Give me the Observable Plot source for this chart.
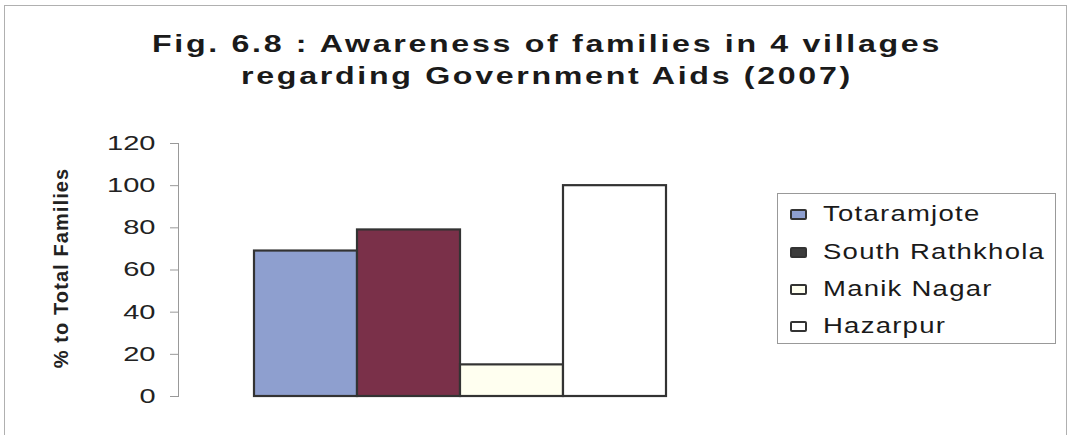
<!DOCTYPE html>
<html>
<head>
<meta charset="utf-8">
<script src="https://cdn.jsdelivr.net/npm/d3@7"></script>
<script src="https://cdn.jsdelivr.net/npm/@observablehq/plot@0.6"></script>
<style>
  html, body { margin: 0; padding: 0; background: #fff; }
  #wrap { position: relative; width: 1073px; height: 435px; overflow: hidden; font-family: "Liberation Sans", Arial, sans-serif; }
  #frame { position: absolute; left: 4px; top: 5px; width: 1063px; height: 440px; border: 1.5px solid #b0b0b0; border-bottom: none; box-sizing: border-box; }
  .tl { position: absolute; left: 0; width: 1094px; text-align: center; font-weight: bold; font-size: 24px; line-height: 30px; letter-spacing: 2px; color: #1a1a1a; transform: scaleX(1.34); transform-origin: 547px 0; white-space: nowrap; }
  #ylabel { position: absolute; left: 61px; top: 268px; transform: translate(-50%, -50%) rotate(-90deg); white-space: nowrap; font-weight: bold; font-size: 20px; letter-spacing: 1.1px; color: #222; }
  #legend { position: absolute; left: 777px; top: 193px; width: 279px; height: 151px; border: 1px solid #999; box-sizing: border-box; }
  .item { position: absolute; left: 12px; font-size: 22px; color: #1a1a1a; white-space: nowrap; }
  .sw { position: absolute; left: 0; width: 17px; height: 11px; border: 2px solid #333; border-radius: 2px; box-sizing: border-box; }
  .item span.t { position: absolute; left: 33px; top: -13px; letter-spacing: 1px; transform: scaleX(1.25); transform-origin: 0 0; }
  #chart { position: absolute; left: 0; top: 0; }
</style>
</head>
<body>
<div id="wrap">
  <div id="frame"></div>
  <div id="chart"></div>
  <div class="tl" style="top:29px">Fig. 6.8 : Awareness of families in 4 villages</div>
  <div class="tl" style="top:61px">regarding Government Aids (2007)</div>
  <div id="ylabel">% to Total Families</div>
  <div id="legend"></div>
</div>
<script>
const villages = ["Totaramjote", "South Rathkhola", "Manik Nagar", "Hazarpur"];
const values = [69, 79, 15, 100];
const colors = ["#8e9fcf", "#7a3049", "#fffff0", "#ffffff"];
const swatchColors = ["#8e9fcf", "#3c3c3c", "#fffff0", "#ffffff"];
const yTicks = [0, 20, 40, 60, 80, 100, 120];

const data = villages.map((v, i) => ({village: v, value: values[i]}));

const chart = Plot.plot({
  width: 1073,
  height: 435,
  marginTop: 143,
  marginBottom: 39,
  marginLeft: 178,
  marginRight: 331,
  style: {background: "transparent", fontFamily: "Liberation Sans, Arial, sans-serif"},
  x: {domain: villages, paddingInner: 0, paddingOuter: 0.725, axis: null},
  y: {domain: [0, 120]},
  color: {domain: villages, range: colors},
  marks: [
    Plot.barY(data, {x: "village", y: "value", fill: "village", stroke: "#333", strokeWidth: 2.2, inset: 0}),
    Plot.axisY({ticks: yTicks, tickSize: 8, tickPadding: 15, label: null, fontSize: 20, stroke: "#999", color: "#222"}),
    Plot.frame({anchor: "left", stroke: "#999"})
  ]
});
document.getElementById("chart").appendChild(chart);
chart.querySelectorAll("g[aria-label='y-axis tick label'] text").forEach(t => {
  t.setAttribute("fill", "#222");
  const w = t.getComputedTextLength();
  t.setAttribute("textLength", (w * 1.45).toFixed(1));
  t.setAttribute("lengthAdjust", "spacingAndGlyphs");
});

const legend = document.getElementById("legend");
const tops = [20, 58, 95, 132];
villages.forEach((v, i) => {
  const it = document.createElement("div");
  it.className = "item";
  it.style.top = tops[i] + "px";
  const sw = document.createElement("div");
  sw.className = "sw";
  sw.style.top = "-5px";
  sw.style.background = swatchColors[i];
  const t = document.createElement("span");
  t.className = "t";
  t.textContent = v;
  it.appendChild(sw);
  it.appendChild(t);
  legend.appendChild(it);
});
</script>
</body>
</html>
